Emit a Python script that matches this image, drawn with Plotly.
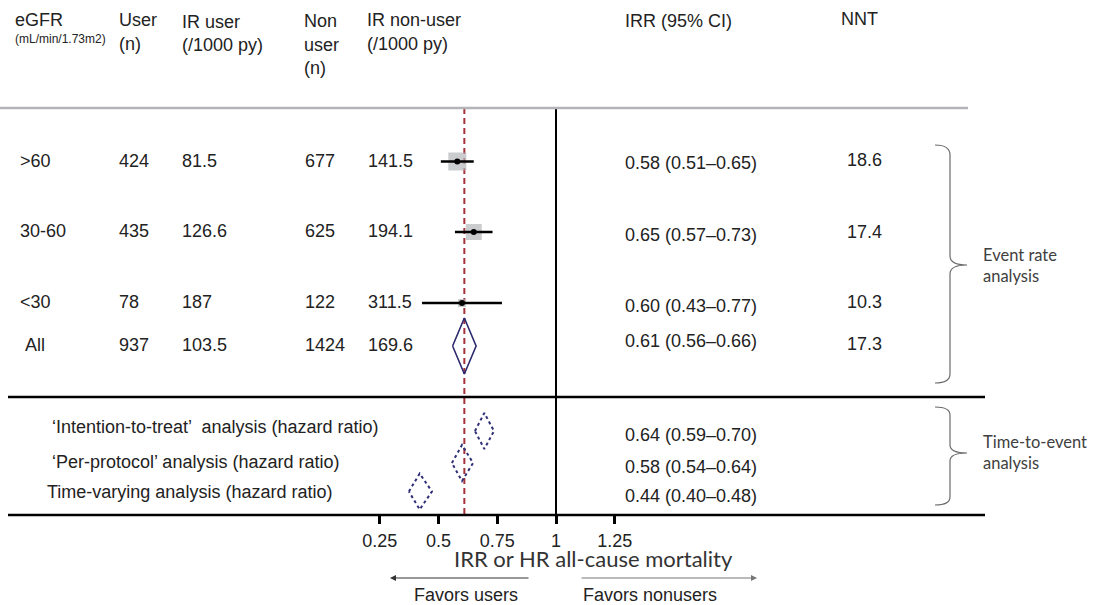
import plotly.graph_objects as go

# ---------------- data ----------------
egfr_groups = [">60", "30-60", "<30", "All"]
users_n = ["424", "435", "78", "937"]
ir_user = ["81.5", "126.6", "187", "103.5"]
nonusers_n = ["677", "625", "122", "1424"]
ir_nonuser = ["141.5", "194.1", "311.5", "169.6"]
irr = [0.58, 0.65, 0.60, 0.61]
irr_lo = [0.51, 0.57, 0.43, 0.56]
irr_hi = [0.65, 0.73, 0.77, 0.66]
nnt = ["18.6", "17.4", "10.3", "17.3"]
square_size = [18, 16, 8]

tte_labels = ["\u2018Intention-to-treat\u2019  analysis (hazard ratio)",
              "\u2018Per-protocol\u2019 analysis (hazard ratio)",
              "Time-varying analysis (hazard ratio)"]
hr = [0.64, 0.58, 0.44]
hr_lo = [0.59, 0.54, 0.40]
hr_hi = [0.70, 0.64, 0.48]
# diamond positions as drawn in the picture
hr_drawn = [0.695, 0.60, 0.42]
hr_drawn_lo = [0.655, 0.557, 0.374]
hr_drawn_hi = [0.736, 0.647, 0.472]

pooled = 0.61
tick_vals = [0.25, 0.5, 0.75, 1, 1.25]
tick_text = ["0.25", "0.5", "0.75", "1", "1.25"]

# ---------------- layout geometry ----------------
W, H = 1094, 605
X0, SC = 321.0, 235.0          # pixel of value 0, pixels per unit
xr = [(0 - X0) / SC, (W - X0) / SC]
row_y = [161.5, 232, 303, 346]
tte_y = [431, 463, 491.5]
tte_text_y = [427, 462, 492]
tte_irr_y = [435, 467, 496]
irr_text_y = [163, 235, 306, 341]
nnt_y = [160, 232, 302, 344]

FONT = "Liberation Sans, Arial, sans-serif"
TXT = "#222222"
NAVY = "#2c2a6e"
FS = 18

fig = go.Figure()

# reference lines
fig.add_trace(go.Scatter(x=[pooled, pooled], y=[108, 515], mode="lines",
                         line=dict(color="#a3323a", width=2, dash="6px,4px"),
                         hoverinfo="skip", showlegend=False))
fig.add_trace(go.Scatter(x=[1, 1], y=[108, 515], mode="lines",
                         line=dict(color="black", width=2),
                         hoverinfo="skip", showlegend=False))

# subgroup squares
fig.add_trace(go.Scatter(x=irr[:3], y=row_y[:3], mode="markers",
                         marker=dict(symbol="square", size=square_size, color="#b4b6b9",
                                     line=dict(width=0)),
                         hoverinfo="skip", showlegend=False))
# CI bars + point
fig.add_trace(go.Scatter(
    x=irr[:3], y=row_y[:3], mode="markers",
    marker=dict(size=6, color="black"),
    error_x=dict(type="data", symmetric=False,
                 array=[h - e for h, e in zip(irr_hi[:3], irr[:3])],
                 arrayminus=[e - l for e, l in zip(irr[:3], irr_lo[:3])],
                 width=0, thickness=2.5, color="black"),
    hoverinfo="skip", showlegend=False))

# pooled diamond
dh = 28
fig.add_trace(go.Scatter(
    x=[irr_lo[3], irr[3], irr_hi[3], irr[3], irr_lo[3]],
    y=[row_y[3], row_y[3] - dh, row_y[3], row_y[3] + dh, row_y[3]],
    mode="lines", line=dict(color=NAVY, width=1.6),
    hoverinfo="skip", showlegend=False))

# time-to-event dotted diamonds
th = 18
for c, lo, hi, yc in zip(hr_drawn, hr_drawn_lo, hr_drawn_hi, tte_y):
    fig.add_trace(go.Scatter(
        x=[lo, c, hi, c, lo], y=[yc, yc - th, yc, yc + th, yc],
        mode="lines", line=dict(color="#2f2f78", width=2, dash="dot"),
        hoverinfo="skip", showlegend=False))

# dummy on overlay axis
fig.add_trace(go.Scatter(x=[0], y=[0], xaxis="x2", mode="markers",
                         marker=dict(opacity=0), hoverinfo="skip", showlegend=False))

ann = []


def txt(x, y, s, size=FS, color=TXT, family=FONT, xanchor="left"):
    ann.append(dict(x=x, y=y, xref="x2", yref="y", text=s, showarrow=False,
                    xanchor=xanchor, yanchor="middle", align="left",
                    font=dict(family=family, size=size, color=color)))


# header
txt(13, 20, "eGFR")
txt(13, 39, "(mL/min/1.73m2)", size=12)
txt(117, 20, "User")
txt(117, 44, "(n)")
txt(180, 22, "IR user")
txt(180, 45, "(/1000 py)")
txt(302, 21, "Non")
txt(302, 45, "user")
txt(302, 68, "(n)")
txt(365, 20, "IR non-user")
txt(365, 44, "(/1000 py)")
txt(623, 21, "IRR (95% CI)")
txt(839, 19, "NNT")

# rows
for i in range(4):
    y = row_y[i] - 1
    txt(18 if i < 3 else 23, y, egfr_groups[i])
    txt(117, y, users_n[i])
    txt(180, y, ir_user[i])
    txt(303, y, nonusers_n[i])
    txt(366, y, ir_nonuser[i])
    txt(623, irr_text_y[i], f"{irr[i]:.2f} ({irr_lo[i]:.2f}\u2013{irr_hi[i]:.2f})")
    txt(845, nnt_y[i], nnt[i])

for i in range(3):
    txt(50 if i < 2 else 45, tte_text_y[i], tte_labels[i])
    txt(623, tte_irr_y[i], f"{hr[i]:.2f} ({hr_lo[i]:.2f}\u2013{hr_hi[i]:.2f})")

# brace labels
txt(981, 265, "Event rate<br>analysis", size=16.5, color="#404040", family="Lato, sans-serif")
txt(981, 452, "Time-to-event<br>analysis", size=16.5, color="#404040", family="Lato, sans-serif")

# axis title & favors
txt(593, 558, "IRR or HR all-cause mortality", size=22, color="#333333",
    family="Lato, sans-serif", xanchor="center")
txt(466, 595, "Favors users", size=FS, xanchor="center")
txt(650, 595, "Favors nonusers", size=FS, xanchor="center")

# arrows
ann.append(dict(x=390, y=578, ax=530, ay=578, xref="x2", yref="y", axref="x2", ayref="y",
                text="", showarrow=True, arrowhead=2, arrowsize=1, arrowwidth=1.2,
                arrowcolor="#333333"))
ann.append(dict(x=757, y=578, ax=580, ay=578, xref="x2", yref="y", axref="x2", ayref="y",
                text="", showarrow=True, arrowhead=2, arrowsize=1, arrowwidth=1.2,
                arrowcolor="#777777"))

shapes = [
    dict(type="line", xref="x2", yref="y", x0=0, x1=968, y0=108, y1=108,
         line=dict(color="#b3b3b8", width=2.5)),
    dict(type="line", xref="x2", yref="y", x0=8, x1=985, y0=397, y1=397,
         line=dict(color="black", width=2.5)),
    dict(type="line", xref="x2", yref="y", x0=8, x1=985, y0=515, y1=515,
         line=dict(color="black", width=2.5)),
    dict(type="path", xref="x2", yref="y",
         path="M 935 145 Q 950 145 950 155 L 950 256 Q 950 265 967 265 "
              "Q 950 265 950 274 L 950 374 Q 950 383 935 383",
         line=dict(color="#6b6b6b", width=1.2)),
    dict(type="path", xref="x2", yref="y",
         path="M 935 407 Q 950 407 950 415 L 950 445 Q 950 453 967 453 "
              "Q 950 453 950 461 L 950 497 Q 950 505 935 505",
         line=dict(color="#6b6b6b", width=1.2)),
]

fig.update_layout(
    width=W, height=H,
    margin=dict(l=0, r=0, t=0, b=0),
    paper_bgcolor="white", plot_bgcolor="white",
    showlegend=False,
    xaxis=dict(range=xr, anchor="free", position=1 - 515 / H,
               tickvals=tick_vals, ticktext=tick_text,
               ticks="outside", ticklen=8, tickwidth=2.5, tickcolor="black",
               showgrid=False, zeroline=False, showline=False,
               ticklabelstandoff=1,
               tickfont=dict(family=FONT, size=FS, color=TXT)),
    xaxis2=dict(range=[0, W], overlaying="x", visible=False, anchor="y"),
    yaxis=dict(range=[H, 0], visible=False, showgrid=False, zeroline=False),
    annotations=ann,
    shapes=shapes,
)

fig.write_html("out.html", config={"displayModeBar": False},
               post_script="document.body.style.margin='0px';document.body.style.overflow='hidden';")
